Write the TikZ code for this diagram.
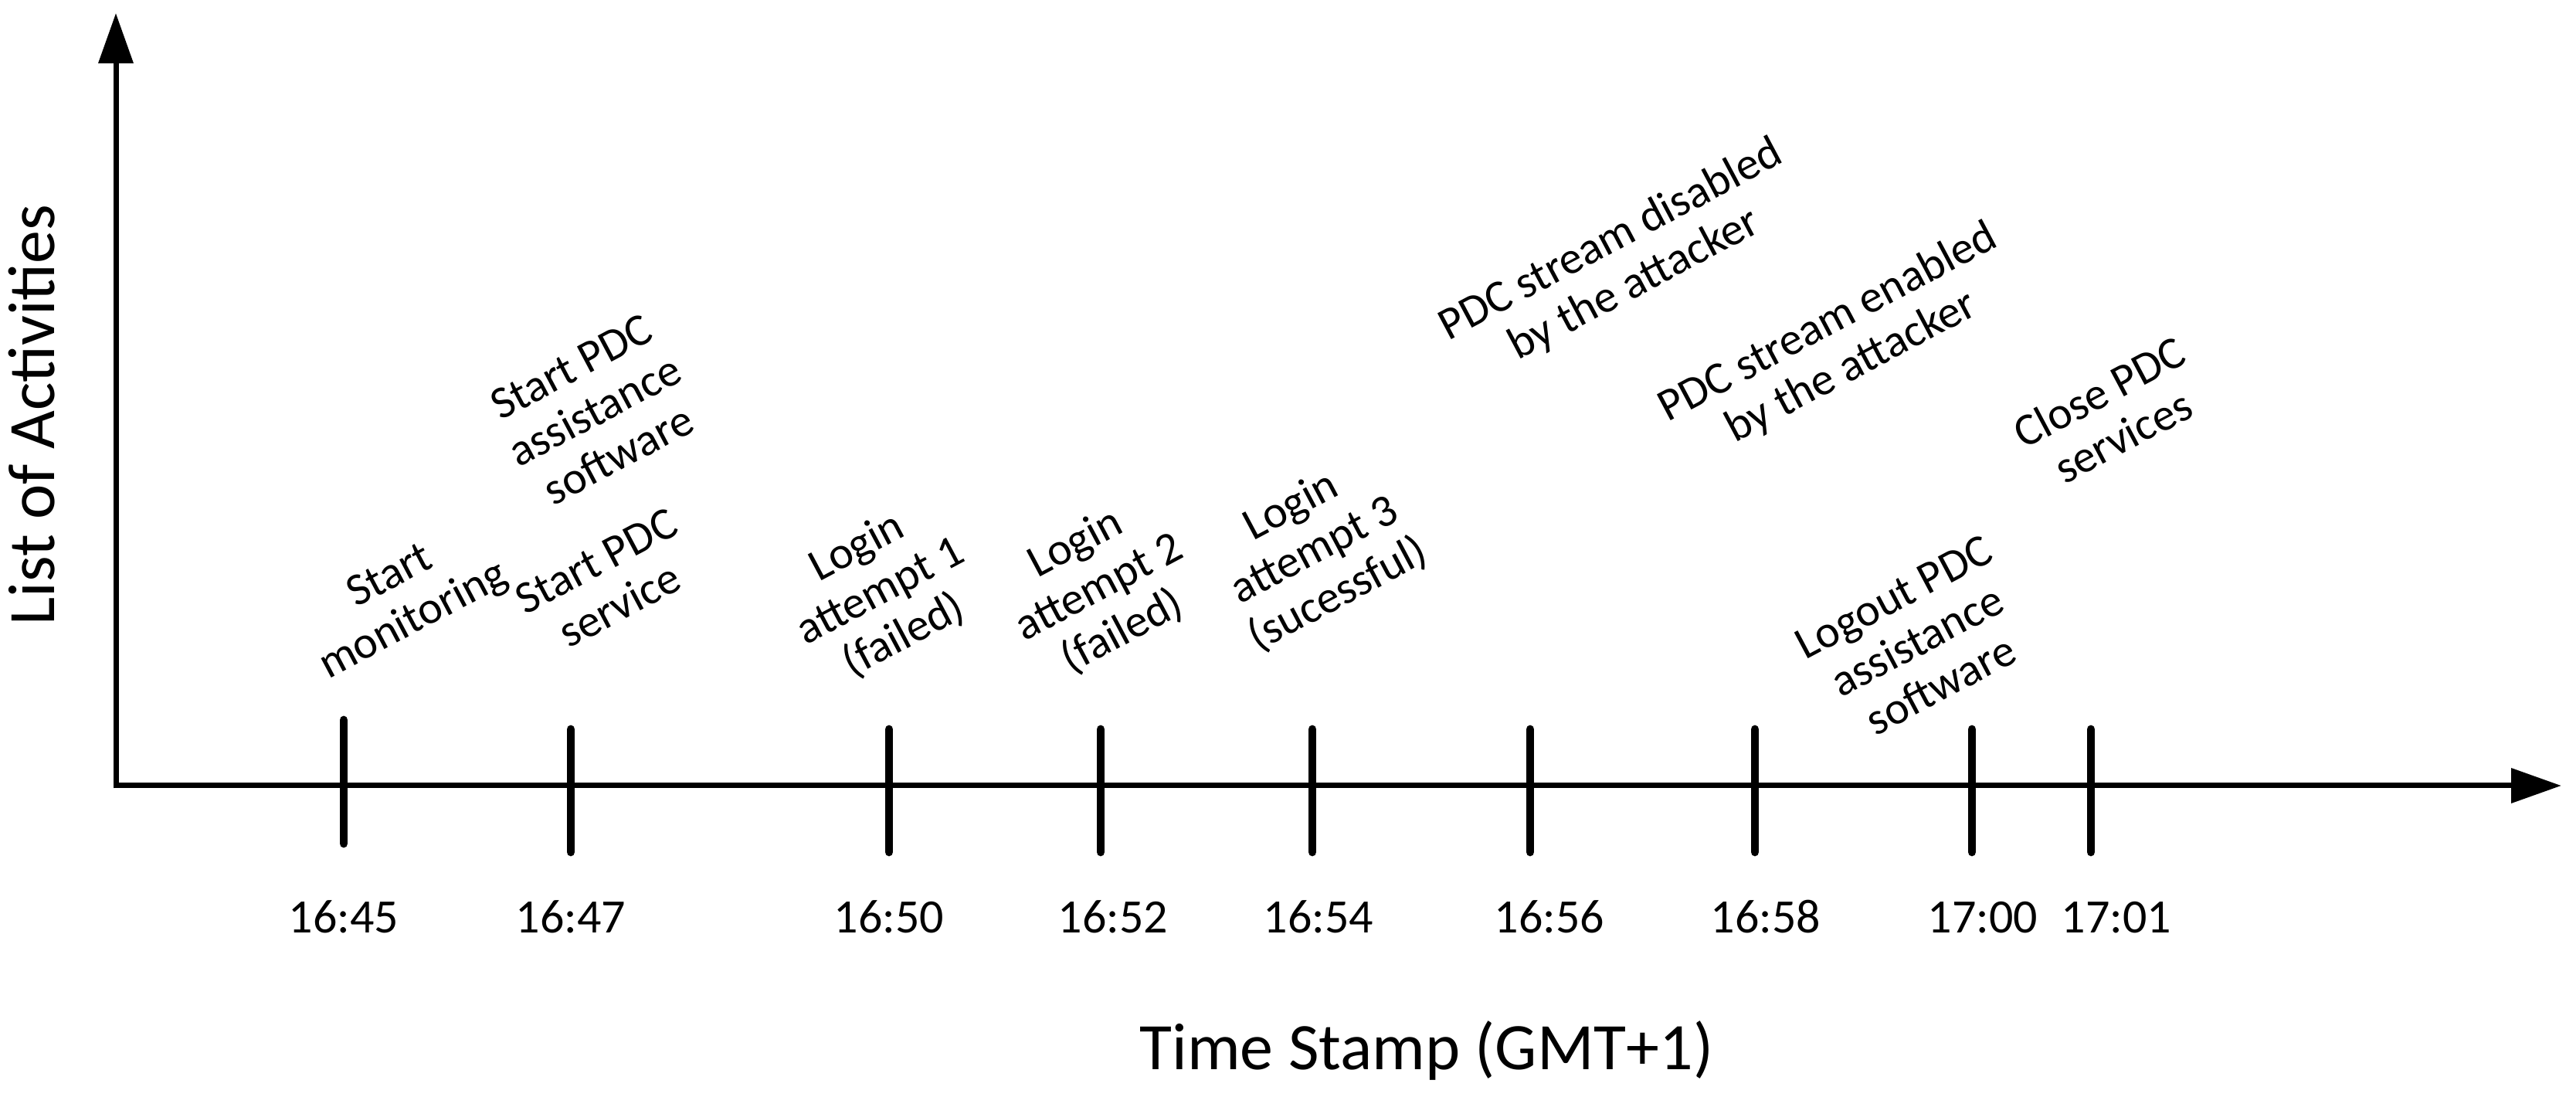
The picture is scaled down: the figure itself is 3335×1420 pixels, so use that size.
\documentclass[tikz,border=0pt]{standalone}
\usepackage{fontspec}
\setmainfont{Carlito}
\usetikzlibrary{arrows.meta}
\begin{document}
\begin{tikzpicture}[x=0.25pt,y=-0.25pt,
  axis/.style={line width=1.75pt, -{Triangle[length=16.25pt,width=11pt]}},
  tickmark/.style={line width=2.7pt, line cap=round},
  evt/.style={align=center, rotate=28, inner sep=0pt, font=\fontsize{14.8}{16.2}\selectfont},
  tlab/.style={inner sep=0pt, anchor=base, font=\fontsize{15.5}{17}\selectfont},
  axtitle/.style={inner sep=0pt, anchor=base, font=\fontsize{21.5}{26}\selectfont}]
\useasboundingbox (0,0) rectangle (3335,1420);
\coordinate (O) at (150,1017);
\coordinate (ytip) at (150,17);
\coordinate (xtip) at (3316,1017);
\draw[axis] ([yshift=-0.875pt]O) -- (ytip);
\draw[axis] (O) -- (xtip);
% ticks and time labels
\foreach \n/\x/\t/\b/\o/\lab in {
  a/445/932/1092/0/16:45,
  b/739/944/1103/0/16:47,
  c/1151/944/1103/0/16:50,
  d/1425/944/1103/16/16:52,
  e/1699/944/1103/8/16:54,
  f/1981/944/1103/25/16:56,
  g/2272/944/1103/14/16:58,
  h/2553/944/1103/14/17:00,
  i/2707/944/1103/33/17:01}{
  \coordinate (top\n) at (\x,\t);
  \coordinate (bot\n) at (\x,\b);
  \draw[tickmark] (top\n) -- (bot\n);
  \node[tlab] (time\n) at (\x+\o,1208) {\lab};
}
% events
\node[evt] (sm)   at (521,776)  {Start\\monitoring};
\node[evt] (sps)  at (787,755)  {Start PDC\\service};
\node[evt] (spas) at (770,532)  {Start PDC\\assistance\\software};
\node[evt] (l1)   at (1140,766) {Login\\attempt 1\\(failed)};
\node[evt] (l2)   at (1423,761) {Login\\attempt 2\\(failed)};
\node[evt] (l3)   at (1702,713) {Login\\attempt 3\\(sucessful)};
\node[evt] (dis)  at (2101,340) {PDC stream disabled\\by the attacker};
\node[evt] (en)   at (2382,447) {PDC stream enabled\\by the attacker};
\node[evt] (lo)   at (2482,830) {Logout PDC\\assistance\\software};
\node[evt] (cl)   at (2733,536) {Close PDC\\services};
% axis titles
\node[axtitle] (xtitle) at (1847,1385) {Time Stamp (GMT+1)};
\node[axtitle, rotate=90] (ytitle) at (70,537) {List of Activities};
\end{tikzpicture}
\end{document}
